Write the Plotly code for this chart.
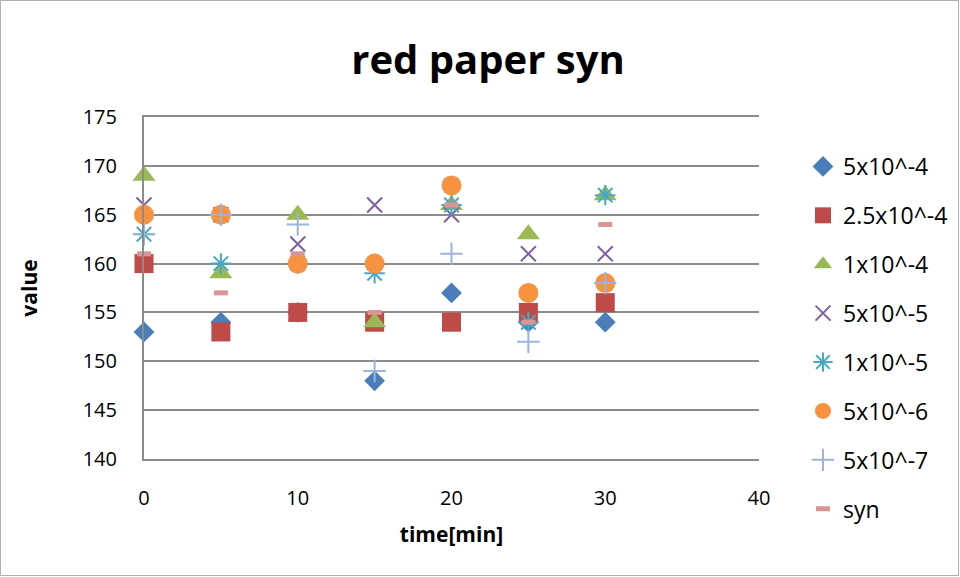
import plotly.graph_objects as go

# time points (min)
time_min = [0, 5, 10, 15, 20, 25, 30]

# measured values per concentration
s_5e4 = [153, 154, 155, 148, 157, 154, 154]
s_25e4 = [160, 153, 155, 154, 154, 155, 156]
s_1e4 = [169, 159, 165, 154, 166, 163, 167]
s_5e5 = [166, 165, 162, 166, 165, 161, 161]
s_1e5 = [163, 160, 160, 159, 166, 154, 167]
s_5e6 = [165, 165, 160, 160, 168, 157, 158]
s_5e7 = [163, 165, 164, 149, 161, 152, 158]
s_syn = [161, 157, 161, 155, 166, 154, 164]

names = ["5x10^-4", "2.5x10^-4", "1x10^-4", "5x10^-5", "1x10^-5", "5x10^-6", "5x10^-7", "syn"]
series = [s_5e4, s_25e4, s_1e4, s_5e5, s_1e5, s_5e6, s_5e7, s_syn]

styles = [
    dict(symbol="diamond", size=16, color="#4A7EBB"),
    dict(symbol="square", size=19, color="#BE4B48"),
    dict(symbol="triangle-up", size=20, color="#98B954"),
    dict(symbol="x-thin-open", size=15, color="#7D60A0", line=dict(width=2, color="#7D60A0")),
    dict(symbol="asterisk-open", size=17, color="#46AAC5", line=dict(width=2, color="#46AAC5")),
    dict(symbol="circle", size=20, color="#F69240"),
    dict(symbol="cross-thin-open", size=16, color="#9CB4DC", line=dict(width=2, color="#9CB4DC")),
    dict(symbol="line-ew-open", size=10, color="#D99694", line=dict(width=5, color="#D99694")),
]

fig = go.Figure()
for i, (nm, ys, st) in enumerate(zip(names, series, styles)):
    fig.add_trace(go.Scatter(
        x=time_min, y=ys, mode="markers", name=nm,
        marker=st, legendgroup=f"g{i}", cliponaxis=False,
    ))

W, H = 960, 577
L, R, T, B = 144, 201, 117, 118
pw, ph = W - L - R, H - T - B
FONT = "Open Sans, Lato, Liberation Sans, sans-serif"
GRID = "#8c8c8c"

fig.update_layout(
    width=W, height=H,
    margin=dict(l=L, r=R, t=T, b=B, autoexpand=False),
    paper_bgcolor="white", plot_bgcolor="white",
    font=dict(family=FONT, size=20, color="black"),
    title=dict(text="<b>red paper syn</b>", x=(488 - L) / pw, xref="paper", xanchor="center",
               y=1 - 60 / H, yanchor="middle", font=dict(size=40)),
    xaxis=dict(range=[0, 40], tickvals=[0, 10, 20, 30, 40], showgrid=False,
               zeroline=False, showline=True, mirror=True, linecolor=GRID, linewidth=1.5,
               ticks="", ticklabelstandoff=20,
               title=dict(text="<b>time[min]</b>", font=dict(size=21), standoff=18)),
    yaxis=dict(range=[140, 175], dtick=5, showgrid=True, gridcolor=GRID, gridwidth=1.5,
               zeroline=False, showline=True, linecolor=GRID, linewidth=2,
               ticks="", ticklabelstandoff=21,
               title=dict(text="<b>value</b>", font=dict(size=21), standoff=39)),
    legend=dict(xref="container", yref="container", x=803 / W, y=1 - 145 / H,
                xanchor="left", yanchor="top",
                font=dict(size=23), tracegroupgap=16, itemwidth=30, maxheight=560,
                bgcolor="rgba(0,0,0,0)"),
    showlegend=True,
)

# outer chart border
fig.add_shape(type="rect", xref="paper", yref="paper",
              x0=(0.5 - L) / pw, x1=(W - 1.5 - L) / pw,
              y0=-(H - 1.5 - T - ph) / ph, y1=1 + (T - 0.5) / ph,
              line=dict(color="#b0b0b0", width=1), layer="below")

fig.write_html("out.html")
